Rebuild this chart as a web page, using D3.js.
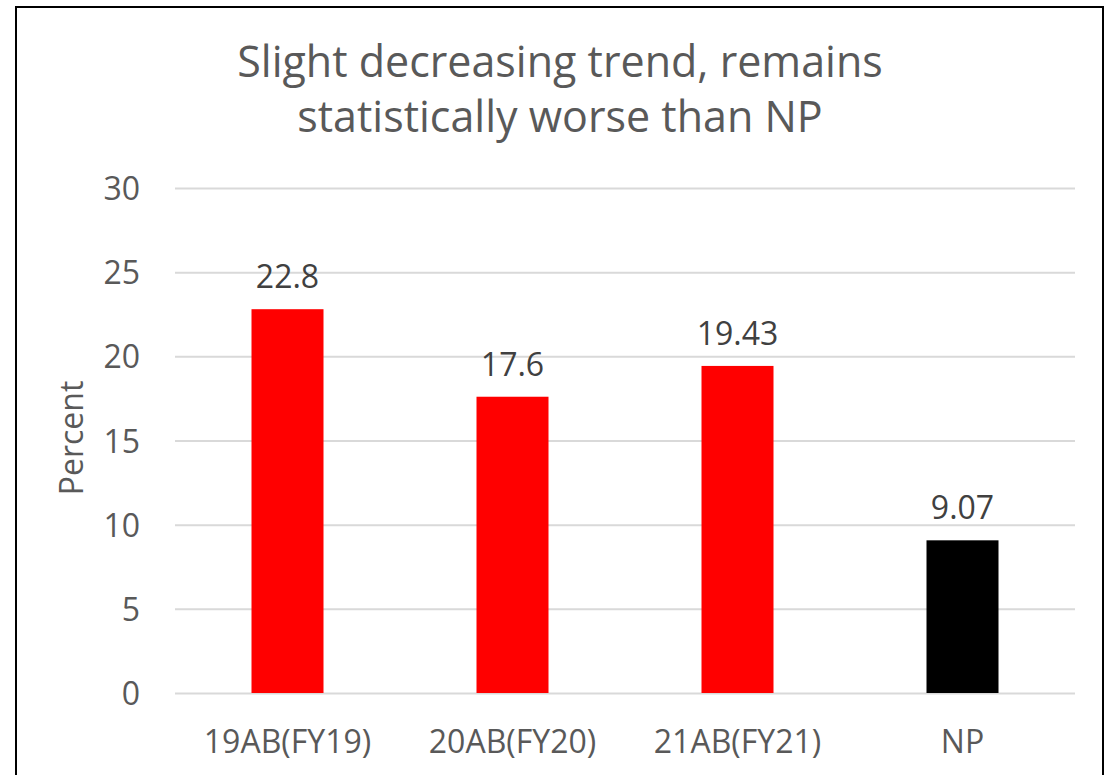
<!DOCTYPE html>
<html lang="en">
<head>
<meta charset="UTF-8">
<title>Chart</title>
<script src="https://d3js.org/d3.v7.min.js"></script>
<style>
  body { margin: 0; background: #fff; }
  text { font-family: "Open Sans", sans-serif; }
</style>
</head>
<body>
<script>
var categories = ["19AB(FY19)", "20AB(FY20)", "21AB(FY21)", "NP"];
var values = [22.8, 17.6, 19.43, 9.07];
var labels = ["22.8", "17.6", "19.43", "9.07"];
var barColors = ["#ff0000", "#ff0000", "#ff0000", "#000000"];
var yTicks = [0, 5, 10, 15, 20, 25, 30];
var titleLines = ["Slight decreasing trend, remains", "statistically worse than NP"];

var W = 1109, H = 775;
var margin = {top: 188, right: 34, bottom: 82, left: 175};

var svg = d3.select("body").append("svg")
  .attr("width", W)
  .attr("height", H);

svg.append("rect")
  .attr("width", W).attr("height", H)
  .attr("fill", "#fff");

// outer frame
svg.append("rect")
  .attr("x", 16).attr("y", 7)
  .attr("width", 1087).attr("height", 800)
  .attr("fill", "none")
  .attr("stroke", "#000")
  .attr("stroke-width", 2);

var x = d3.scaleBand()
  .domain(categories)
  .range([margin.left, W - margin.right])
  .paddingInner(0.68)
  .paddingOuter(0.34);

var y = d3.scaleLinear()
  .domain([0, 30])
  .range([H - margin.bottom, margin.top]);

// gridlines
svg.append("g")
  .attr("transform", "translate(" + margin.left + ",0)")
  .call(d3.axisLeft(y).tickValues(yTicks).tickSize(-(W - margin.right - margin.left)).tickFormat(""))
  .call(function(g) {
    g.select(".domain").remove();
    g.selectAll("line").attr("stroke", "#d9d9d9").attr("stroke-width", 2);
  });

// y tick labels
svg.append("g")
  .attr("transform", "translate(" + (margin.left - 35) + ",0)")
  .call(d3.axisLeft(y).tickValues(yTicks).tickSize(0).tickPadding(0))
  .call(function(g) {
    g.select(".domain").remove();
    g.selectAll("text")
      .attr("fill", "#595959")
      .style("font-size", "32px")
      .attr("dy", "0.36em");
  });

// bars
svg.selectAll(".bar")
  .data(values)
  .enter().append("rect")
  .attr("class", "bar")
  .attr("x", function(d, i) { return x(categories[i]); })
  .attr("y", function(d) { return y(d); })
  .attr("width", x.bandwidth())
  .attr("height", function(d) { return y(0) - y(d); })
  .attr("fill", function(d, i) { return barColors[i]; });

// data labels
svg.selectAll(".lbl")
  .data(values)
  .enter().append("text")
  .attr("class", "lbl")
  .attr("x", function(d, i) { return x(categories[i]) + x.bandwidth() / 2; })
  .attr("y", function(d) { return y(d) - 21; })
  .attr("text-anchor", "middle")
  .attr("fill", "#404040")
  .style("font-size", "32px")
  .text(function(d, i) { return labels[i]; });

// x axis labels
svg.append("g")
  .attr("transform", "translate(0," + (y(0) + 60) + ")")
  .call(d3.axisBottom(x).tickSize(0).tickPadding(0))
  .call(function(g) {
    g.select(".domain").remove();
    g.selectAll("text")
      .attr("fill", "#595959")
      .style("font-size", "32px")
      .attr("dy", "0");
  });

// y axis title
svg.append("text")
  .attr("transform", "translate(83,438) rotate(-90)")
  .attr("text-anchor", "middle")
  .attr("fill", "#595959")
  .style("font-size", "32px")
  .text("Percent");

// chart title
svg.append("text")
  .attr("x", 560)
  .attr("text-anchor", "middle")
  .attr("fill", "#595959")
  .style("font-size", "43px")
  .selectAll("tspan")
  .data(titleLines)
  .enter().append("tspan")
  .attr("x", 560)
  .attr("y", function(d, i) { return 77 + i * 55; })
  .text(function(d) { return d; });
</script>
</body>
</html>
